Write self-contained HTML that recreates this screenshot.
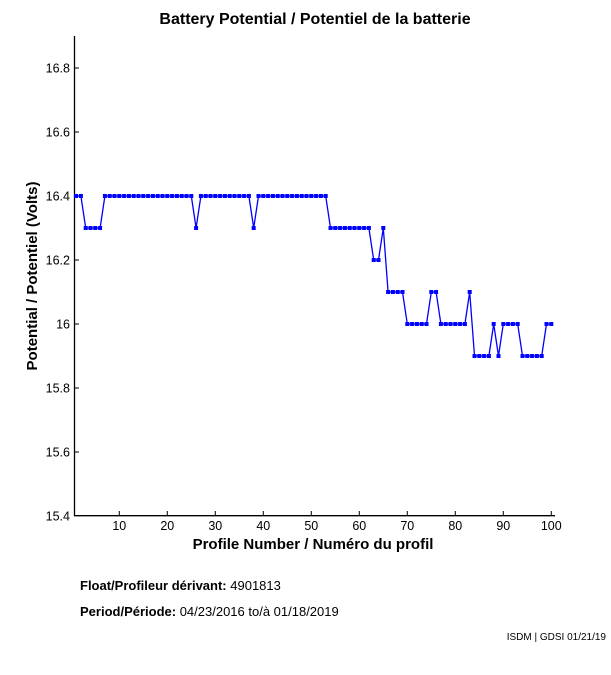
<!DOCTYPE html>
<html><head><meta charset="utf-8"><style>
html,body{margin:0;padding:0;background:#fff;}
svg{display:block;font-family:"Liberation Sans",sans-serif;}
</style></head><body>
<svg width="611" height="675" viewBox="0 0 611 675" xmlns="http://www.w3.org/2000/svg">
<defs>
<marker id="m" markerUnits="userSpaceOnUse" markerWidth="6" markerHeight="6" refX="3" refY="3" viewBox="0 0 6 6"><rect x="1" y="1" width="4" height="4" fill="#0000ff"/></marker>
</defs>
<text x="315" y="24" text-anchor="middle" font-size="16" font-weight="bold">Battery Potential / Potentiel de la batterie</text>
<g stroke="#000" stroke-width="1.3" fill="none">
<line x1="74.5" y1="36" x2="74.5" y2="516"/>
<line x1="74" y1="515.7" x2="555" y2="515.7"/>
</g>
<g stroke="#000" stroke-width="1">
<line x1="74.5" y1="452" x2="79" y2="452"/><line x1="74.5" y1="388" x2="79" y2="388"/><line x1="74.5" y1="324" x2="79" y2="324"/><line x1="74.5" y1="260" x2="79" y2="260"/><line x1="74.5" y1="196" x2="79" y2="196"/><line x1="74.5" y1="132" x2="79" y2="132"/><line x1="74.5" y1="68" x2="79" y2="68"/>
<line x1="119.3" y1="515.7" x2="119.3" y2="511"/><line x1="167.3" y1="515.7" x2="167.3" y2="511"/><line x1="215.3" y1="515.7" x2="215.3" y2="511"/><line x1="263.3" y1="515.7" x2="263.3" y2="511"/><line x1="311.3" y1="515.7" x2="311.3" y2="511"/><line x1="359.3" y1="515.7" x2="359.3" y2="511"/><line x1="407.3" y1="515.7" x2="407.3" y2="511"/><line x1="455.3" y1="515.7" x2="455.3" y2="511"/><line x1="503.3" y1="515.7" x2="503.3" y2="511"/><line x1="551.3" y1="515.7" x2="551.3" y2="511"/>
</g>
<g font-size="12.5" text-anchor="end">
<text x="70" y="520.5">15.4</text><text x="70" y="456.5">15.6</text><text x="70" y="392.5">15.8</text><text x="70" y="328.5">16</text><text x="70" y="264.5">16.2</text><text x="70" y="200.5">16.4</text><text x="70" y="136.5">16.6</text><text x="70" y="72.5">16.8</text>
</g>
<g font-size="12.5" text-anchor="middle">
<text x="119.3" y="530">10</text><text x="167.3" y="530">20</text><text x="215.3" y="530">30</text><text x="263.3" y="530">40</text><text x="311.3" y="530">50</text><text x="359.3" y="530">60</text><text x="407.3" y="530">70</text><text x="455.3" y="530">80</text><text x="503.3" y="530">90</text><text x="551.3" y="530">100</text>
</g>
<polyline fill="none" stroke="#0000ff" stroke-width="1.3" marker-start="url(#m)" marker-mid="url(#m)" marker-end="url(#m)" points="76.1,196 80.9,196 85.7,228 90.5,228 95.3,228 100.1,228 104.9,196 109.7,196 114.5,196 119.3,196 124.1,196 128.9,196 133.7,196 138.5,196 143.3,196 148.1,196 152.9,196 157.7,196 162.5,196 167.3,196 172.1,196 176.9,196 181.7,196 186.5,196 191.3,196 196.1,228 200.9,196 205.7,196 210.5,196 215.3,196 220.1,196 224.9,196 229.7,196 234.5,196 239.3,196 244.1,196 248.9,196 253.7,228 258.5,196 263.3,196 268.1,196 272.9,196 277.7,196 282.5,196 287.3,196 292.1,196 296.9,196 301.7,196 306.5,196 311.3,196 316.1,196 320.9,196 325.7,196 330.5,228 335.3,228 340.1,228 344.9,228 349.7,228 354.5,228 359.3,228 364.1,228 368.9,228 373.7,260 378.5,260 383.3,228 388.1,292 392.9,292 397.7,292 402.5,292 407.3,324 412.1,324 416.9,324 421.7,324 426.5,324 431.3,292 436.1,292 440.9,324 445.7,324 450.5,324 455.3,324 460.1,324 464.9,324 469.7,292 474.5,356 479.3,356 484.1,356 488.9,356 493.7,324 498.5,356 503.3,324 508.1,324 512.9,324 517.7,324 522.5,356 527.3,356 532.1,356 536.9,356 541.7,356 546.5,324 551.3,324"/>
<text x="313" y="549" text-anchor="middle" font-size="15" font-weight="bold">Profile Number / Numéro du profil</text>
<text transform="translate(37,276) rotate(-90)" text-anchor="middle" font-size="15" font-weight="bold">Potential / Potentiel (Volts)</text>
<text x="80" y="590" font-size="13"><tspan font-weight="bold">Float/Profileur dérivant:</tspan> 4901813</text>
<text x="80" y="616" font-size="13"><tspan font-weight="bold">Period/Période:</tspan> 04/23/2016  to/à  01/18/2019</text>
<text x="606" y="640" text-anchor="end" font-size="10">ISDM | GDSI 01/21/19</text>
</svg>
</body></html>
